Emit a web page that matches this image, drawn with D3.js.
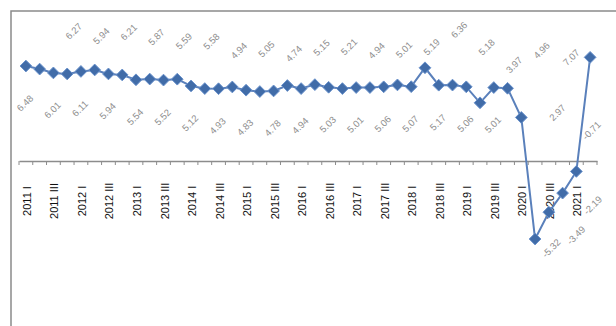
<!DOCTYPE html>
<html>
<head>
<meta charset="utf-8">
<script src="https://cdn.jsdelivr.net/npm/d3@7/dist/d3.min.js"></script>
<style>
  body { margin: 0; background: #fff; }
  svg { display: block; }
</style>
</head>
<body>
<svg id="chart" width="616" height="326"></svg>
<script>
var romans = ['I', 'II', 'III', 'IV'];
var years = d3.range(2011, 2022);
var quarters = [];
years.forEach(function(y){
    romans.forEach(function(r){ quarters.push(y + ' ' + r); });
});
quarters = quarters.slice(0, 42); // 2011 I .. 2021 II

var values = [
    6.48, 6.27, 6.01, 5.94, 6.11, 6.21, 5.94, 5.87, 5.54, 5.59,
    5.52, 5.58, 5.12, 4.94, 4.93, 5.05, 4.83, 4.74, 4.78, 5.15,
    4.94, 5.21, 5.03, 4.94, 5.01, 5.01, 5.06, 5.19, 5.07, 6.36,
    5.17, 5.18, 5.06, 3.97, 5.01, 4.96, 2.97, -5.32, -3.49, -2.19,
    -0.71, 7.07
];

// tick labels only on every second quarter
var tickLabels = quarters.filter(function(q, i){ return i % 2 == 0; });

// label nudges (label centre relative to the marker)
var aboveOff = [34, -38];
var belowOff = [-1, 37];
var special = {
    36: [36, -5],
    37: [16, 9],
    38: [27, 23],
    39: [30, 12],
    40: [15, -41],
    41: [-19, 0]
};

var svg = d3.select('#chart');

// chart frame
svg.append('rect')
    .attr('x', 11).attr('y', 11)
    .attr('width', 640).attr('height', 340)
    .attr('fill', 'none')
    .attr('stroke', '#8a8a8a')
    .attr('stroke-width', 1.5);

var x = d3.scaleBand().domain(quarters).range([19, 597]);
var y = d3.scaleLinear().domain([-8, 10]).range([278.3, 14.4]);
var cx = function(q){ return x(q) + x.bandwidth() / 2; };

// category axis on zero line
var axis = d3.axisBottom(x)
    .tickValues(tickLabels)
    .tickSize(0)
    .tickFormat('');
var gAxis = svg.append('g')
    .attr('transform', 'translate(0,' + y(0) + ')')
    .call(axis);
gAxis.select('.domain').attr('stroke', '#8c8c8c').attr('stroke-width', 1.3);

// tick marks at category boundaries
var bounds = quarters.map(function(q){ return x(q); }).concat([x.range()[1]]);
gAxis.selectAll('line.bound')
    .data(bounds)
    .enter().append('line')
    .attr('class', 'bound')
    .attr('x1', function(d){ return d; })
    .attr('x2', function(d){ return d; })
    .attr('y1', 0).attr('y2', 4)
    .attr('stroke', '#8c8c8c')
    .attr('stroke-width', 1);

svg.append('g').selectAll('text')
    .data(tickLabels)
    .enter().append('text')
    .attr('transform', function(d){ return 'translate(' + (cx(d) + 1) + ',201) rotate(-90)'; })
    .attr('text-anchor', 'middle')
    .attr('dominant-baseline', 'central')
    .style('font-family', 'Liberation Sans, Arial, sans-serif')
    .style('font-size', '11px')
    .style('fill', '#111')
    .text(function(d){ return d; });

// line
var pts = quarters.map(function(q, i){ return { q: q, v: values[i], i: i }; });
var line = d3.line()
    .x(function(d){ return cx(d.q); })
    .y(function(d){ return y(d.v); });

svg.append('path')
    .datum(pts)
    .attr('d', line)
    .attr('fill', 'none')
    .attr('stroke', '#5a80bb')
    .attr('stroke-width', 2);

// diamond markers
svg.append('g').selectAll('path')
    .data(pts)
    .enter().append('path')
    .attr('d', d3.symbol().type(d3.symbolDiamond2).size(88))
    .attr('transform', function(d){ return 'translate(' + cx(d.q) + ',' + y(d.v) + ')'; })
    .attr('fill', '#416ca8')
    .attr('stroke', '#6a92cc')
    .attr('stroke-width', 1);

// data labels, rotated
svg.append('g').selectAll('text')
    .data(pts)
    .enter().append('text')
    .attr('transform', function(d){
        var off = special[d.i] || (d.i % 2 == 0 ? belowOff : aboveOff);
        return 'translate(' + (cx(d.q) + off[0]) + ',' + (y(d.v) + off[1]) + ') rotate(-45)';
    })
    .attr('text-anchor', 'middle')
    .attr('dominant-baseline', 'central')
    .style('font-family', 'Liberation Sans, Arial, sans-serif')
    .style('font-size', '9.5px')
    .style('fill', '#8e8e8e')
    .text(function(d){ return d.v.toFixed(2); });
</script>
</body>
</html>
